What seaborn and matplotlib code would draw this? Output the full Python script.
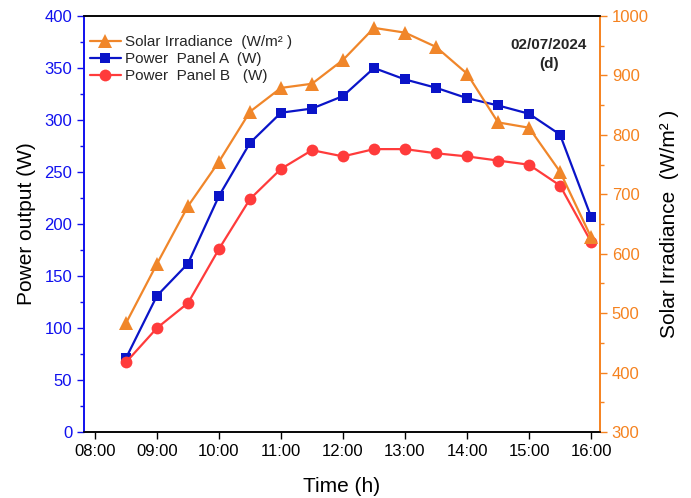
import matplotlib
matplotlib.use("Agg")
import matplotlib.pyplot as plt
import seaborn as sns
import pandas as pd
from matplotlib.ticker import MultipleLocator

sns.set_style("ticks")
plt.rcParams['font.family'] = ['Liberation Sans', 'DejaVu Sans']

hours = [8.5, 9.0, 9.5, 10.0, 10.5, 11.0, 11.5, 12.0, 12.5, 13.0, 13.5, 14.0, 14.5, 15.0, 15.5, 16.0]
power_a = [71, 131, 162, 227, 278, 307, 311, 323, 350, 339, 331, 321, 314, 306, 286, 207]
power_b = [67, 100, 124, 176, 224, 253, 271, 265, 272, 272, 268, 265, 261, 257, 237, 183]
irradiance = [483, 583, 680, 755, 839, 879, 886, 926, 980, 972, 948, 903, 821, 812, 738, 628]
tick_hours = [8, 9, 10, 11, 12, 13, 14, 15, 16]
tick_labels = ["08:00", "09:00", "10:00", "11:00", "12:00", "13:00", "14:00", "15:00", "16:00"]

df = pd.DataFrame({"h": hours, "A": power_a, "B": power_b, "S": irradiance})

c_blue = "#0a14c8"
c_red = "#ff3b3b"
c_orange = "#f0862a"
c_ltick_blue = "#1010ee"
c_rtick = "#f5821f"

fig = plt.figure(figsize=(6.91, 4.98), dpi=100)
ax = fig.add_axes([84 / 691, 66 / 498, 516 / 691, 416 / 498])
ax2 = ax.twinx()

sns.lineplot(data=df, x="h", y="S", ax=ax2, color=c_orange, marker="^", markersize=9.5,
             markeredgewidth=0, linewidth=1.6, label="Solar Irradiance  (W/m² )", legend=False)
sns.lineplot(data=df, x="h", y="A", ax=ax, color=c_blue, marker="s", markersize=7.5,
             markeredgewidth=0, linewidth=1.6, label="Power  Panel A  (W)", legend=False)
sns.lineplot(data=df, x="h", y="B", ax=ax, color=c_red, marker="o", markersize=8.5,
             markeredgewidth=0, linewidth=1.6, label="Power  Panel B   (W)", legend=False)

ax.set_xlim(7.823, 16.145)
ax.set_ylim(0, 400)
ax2.set_ylim(300, 1000)
ax.set_xticks(tick_hours)
ax.set_xticklabels(tick_labels)
ax.yaxis.set_major_locator(MultipleLocator(50))
ax.yaxis.set_minor_locator(MultipleLocator(25))
ax2.yaxis.set_major_locator(MultipleLocator(100))
ax2.yaxis.set_minor_locator(MultipleLocator(50))

ax.set_xlabel("Time (h)", fontsize=15, color="black", labelpad=13)
ax.set_ylabel("Power output (W)", fontsize=15, color="black", labelpad=6)
ax2.set_ylabel("Solar Irradiance  (W/m² )", fontsize=15, color="black", labelpad=8)

ax.tick_params(axis="x", labelsize=12, colors="black", direction="out", length=5, width=1)
ax.tick_params(axis="y", which="major", labelsize=12, colors=c_ltick_blue, direction="out", length=5, width=1)
ax.tick_params(axis="y", which="minor", colors=c_ltick_blue, direction="out", length=3, width=1)
ax2.tick_params(axis="y", which="major", labelsize=12, colors=c_rtick, direction="out", length=5, width=1)
ax2.tick_params(axis="y", which="minor", colors=c_rtick, direction="out", length=3, width=1)

for a in (ax, ax2):
    for s in a.spines.values():
        s.set_linewidth(1.2)
    a.spines["top"].set_visible(True)
    a.spines["right"].set_visible(True)
ax2.spines["left"].set_color(c_ltick_blue)
ax2.spines["right"].set_color(c_rtick)
ax2.spines["top"].set_color("black")
ax2.spines["bottom"].set_color("black")
ax.spines["left"].set_color(c_ltick_blue)
ax.spines["right"].set_color(c_rtick)

h1, l1 = ax2.get_legend_handles_labels()
h2, l2 = ax.get_legend_handles_labels()
leg = ax2.legend(h1 + h2, l1 + l2, loc="upper left", frameon=False, fontsize=11,
                 handlelength=2.0, handletextpad=0.3, labelspacing=0.18,
                 borderaxespad=0.0, borderpad=0.4, bbox_to_anchor=(0.0, 0.968))

ax2.text(549, 498 - 38, "02/07/2024\n(d)", transform=None, ha="center", va="top",
         fontsize=11, fontweight="bold", linespacing=1.45)

fig.savefig("out.png", dpi=100)
